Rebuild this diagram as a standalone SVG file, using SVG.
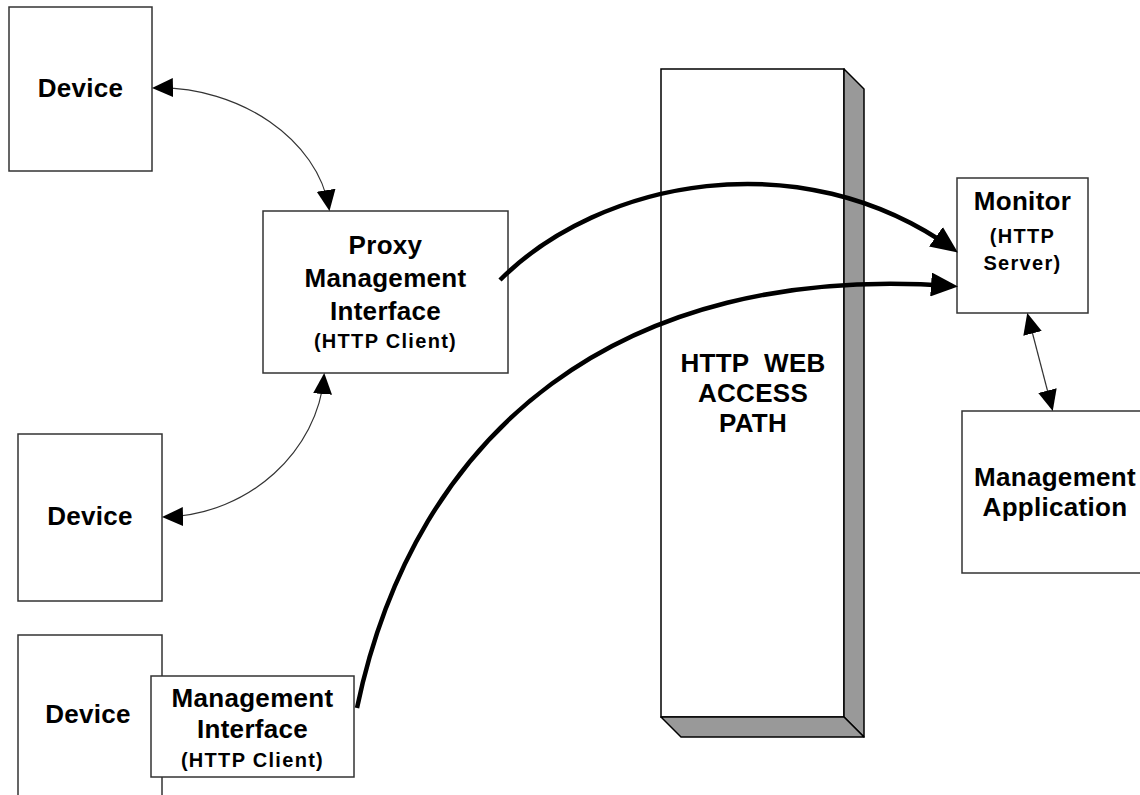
<svg xmlns="http://www.w3.org/2000/svg" width="1140" height="795" viewBox="0 0 1140 795">
<style>
.box{fill:#fff;stroke:#333;stroke-width:1.5}
.t{font-family:"Liberation Sans",Arial,sans-serif;font-weight:bold;font-size:26px;letter-spacing:0.3px;text-anchor:middle;fill:#000}
.s{font-family:"Liberation Sans",Arial,sans-serif;font-weight:bold;font-size:20px;letter-spacing:1.3px;text-anchor:middle;fill:#000}
.thin{fill:none;stroke:#333;stroke-width:1.2}
.thick{fill:none;stroke:#000;stroke-width:4.5}
.side{fill:#999;stroke:#000;stroke-width:1.5;stroke-linejoin:round}
</style>
<defs>
<marker id="ah" markerUnits="userSpaceOnUse" markerWidth="21" markerHeight="20" viewBox="0 0 21 20" refX="18" refY="10" orient="auto-start-reverse">
<path d="M0,0.5 L21,10 L0,19.5 z" fill="#000"/>
</marker>
<marker id="ahb" markerUnits="userSpaceOnUse" markerWidth="27" markerHeight="24" viewBox="0 0 27 24" refX="21" refY="12" orient="auto">
<path d="M0,0 L27,12 L0,24 z" fill="#000"/>
</marker>
</defs>

<g id="column">
<rect class="box" x="661" y="69" width="183" height="648" style="stroke:#000"/>
<polygon class="side" points="844,69 864,89 864,737 844,717"/>
<polygon class="side" points="661,717 844,717 864,737 681,737"/>
<text class="t" x="753" y="372" xml:space="preserve">HTTP  WEB</text>
<text class="t" x="753" y="402">ACCESS</text>
<text class="t" x="753" y="432">PATH</text>
</g>

<g id="device1">
<rect class="box" x="9" y="7" width="143" height="164"/>
<text class="t" x="80.5" y="97">Device</text>
</g>

<g id="device2">
<rect class="box" x="18" y="434" width="144" height="167"/>
<text class="t" x="90" y="525">Device</text>
</g>

<g id="device3">
<rect class="box" x="18" y="635" width="144" height="170"/>
<text class="t" x="88" y="723">Device</text>
</g>

<g id="mgmt-interface">
<rect class="box" x="151" y="676" width="203" height="101"/>
<text class="t" x="252.5" y="707">Management</text>
<text class="t" x="252.5" y="738">Interface</text>
<text class="s" x="252.5" y="767">(HTTP Client)</text>
</g>

<g id="proxy">
<rect class="box" x="263" y="211" width="245" height="162"/>
<text class="t" x="385.5" y="254">Proxy</text>
<text class="t" x="385.5" y="287">Management</text>
<text class="t" x="385.5" y="320">Interface</text>
<text class="s" x="385.5" y="348">(HTTP Client)</text>
</g>

<g id="monitor">
<rect class="box" x="957" y="178" width="131" height="135"/>
<text class="t" x="1022.5" y="210">Monitor</text>
<text class="s" x="1022.5" y="243">(HTTP</text>
<text class="s" x="1022.5" y="270">Server)</text>
</g>

<g id="mgmt-app">
<rect class="box" x="962" y="411" width="186" height="162"/>
<text class="t" x="1055" y="486">Management</text>
<text class="t" x="1055" y="516">Application</text>
</g>

<g id="connectors">
<path class="thin" d="M155,88 C240,86 318,140 329,208" marker-start="url(#ah)" marker-end="url(#ah)"/>
<path class="thin" d="M324,376 C318,450 250,515 165,517" marker-start="url(#ah)" marker-end="url(#ah)"/>
<path class="thin" d="M1028,316 L1052,408" marker-start="url(#ah)" marker-end="url(#ah)"/>
<path class="thick" d="M500,280 C600,180 800,140 953,249" marker-end="url(#ahb)"/>
<path class="thick" d="M357,708 C415,430 620,262 952,286" marker-end="url(#ahb)"/>
</g>
</svg>
